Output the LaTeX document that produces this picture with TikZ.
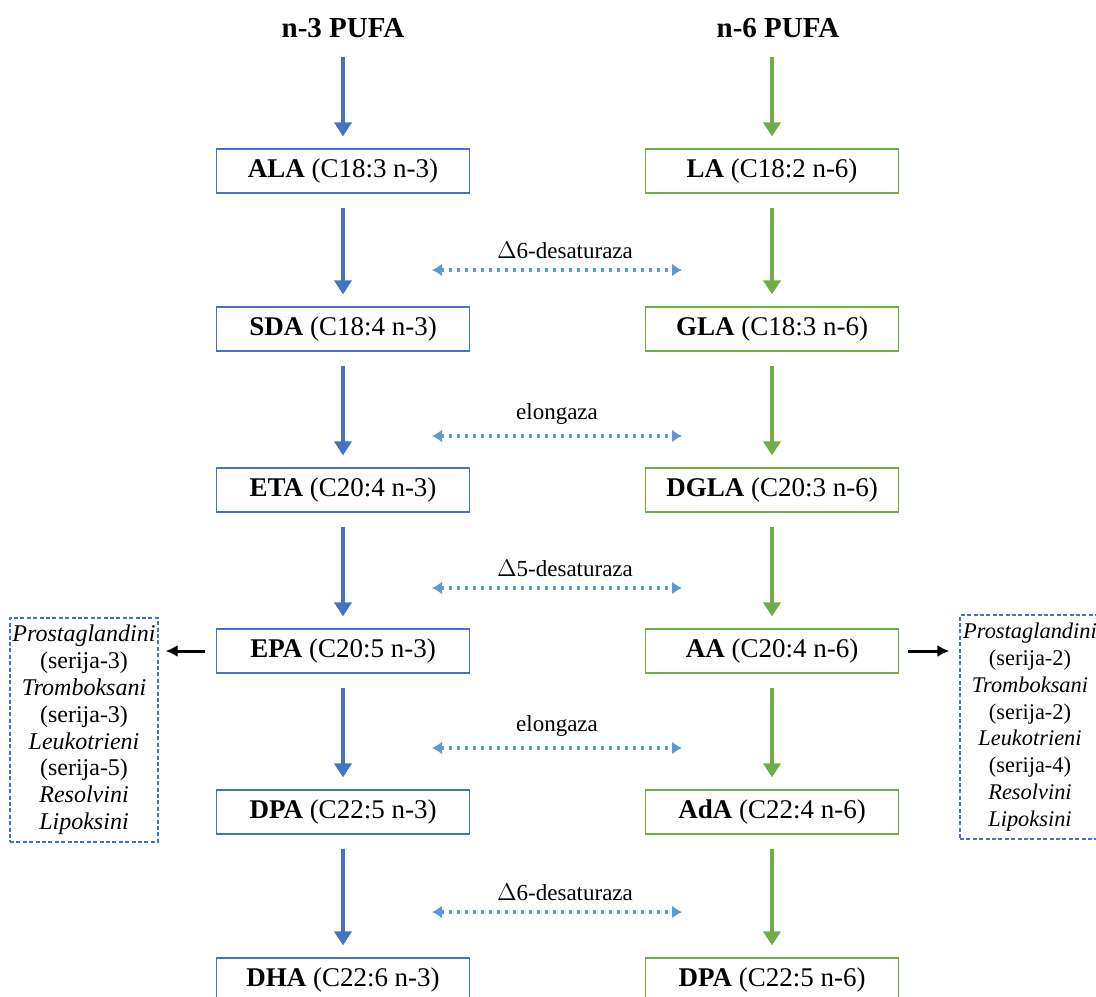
\documentclass[tikz,border=0pt]{standalone}
\usepackage{fontspec}
\setmainfont{Liberation Serif}
\usetikzlibrary{arrows.meta,positioning}
\definecolor{nblue}{HTML}{4472C4}
\definecolor{ngreen}{HTML}{70AD47}
\definecolor{lblue}{HTML}{5B9BD5}

\begin{document}
\begin{tikzpicture}[x=0.5pt,y=-0.5pt,>=Latex,
acid3/.style={draw=nblue,line width=0.6pt,minimum width=126.5pt,minimum height=22pt,inner sep=0pt,font=\fontsize{13.5}{16}\selectfont},
acid6/.style={acid3,draw=ngreen},
head/.style={font=\fontsize{14.5}{17}\selectfont\bfseries},
flow3/.style={draw=nblue,line width=1.8pt,-{Triangle[width=8.5pt,length=7pt]},shorten <=7pt,shorten >=6pt},
flow6/.style={flow3,draw=ngreen},
enzyme/.style={draw=lblue,line width=1.6pt,dash pattern=on 1.6pt off 2.4pt,{Latex[width=6.5pt,length=5pt]}-{Latex[width=6.5pt,length=5pt]}},
lab/.style={font=\fontsize{11.5}{13}\selectfont,inner sep=1pt},
eico/.style={draw=nblue,dash pattern=on 2pt off 1.2pt,line width=0.6pt,align=center,inner sep=0pt,minimum height=112pt,font=\fontsize{12}{13.4}\selectfont},
outflow/.style={-{Latex[width=6pt,length=6pt]},line width=1.5pt,black}]
\useasboundingbox (0,0) rectangle (1096,996);
\node[head] (n3) at (343,28) {n-3 PUFA};
\node[head] (n6) at (778,28) {n-6 PUFA};
% n-3 column
\node[acid3] (ala) at (343,171) {\textbf{ALA} (C18:3 n-3)};
\node[acid3] (sda) at (343,329) {\textbf{SDA} (C18:4 n-3)};
\node[acid3] (eta) at (343,490) {\textbf{ETA} (C20:4 n-3)};
\node[acid3] (epa) at (343,651) {\textbf{EPA} (C20:5 n-3)};
\node[acid3] (dpa3) at (343,812) {\textbf{DPA} (C22:5 n-3)};
\node[acid3] (dha) at (343,980) {\textbf{DHA} (C22:6 n-3)};
% n-6 column
\node[acid6] (la) at (772,171) {\textbf{LA} (C18:2 n-6)};
\node[acid6] (gla) at (772,329) {\textbf{GLA} (C18:3 n-6)};
\node[acid6] (dgla) at (772,490) {\textbf{DGLA} (C20:3 n-6)};
\node[acid6] (aa) at (772,651) {\textbf{AA} (C20:4 n-6)};
\node[acid6] (ada) at (772,812) {\textbf{AdA} (C22:4 n-6)};
\node[acid6] (dpa6) at (772,980) {\textbf{DPA} (C22:5 n-6)};
% eicosanoids
\node[eico,text width=74pt] (eico3) at (84,730)
{\textit{Prostaglandini}\\(serija-3)\\\textit{Tromboksani}\\(serija-3)\\\textit{Leukotrieni}\\(serija-5)\\\textit{Resolvini}\\\textit{Lipoksini}};
\node[eico,text width=70pt,font=\fontsize{11.2}{13.4}\selectfont] (eico6) at (1030,727)
{\textit{Prostaglandini}\\(serija-2)\\\textit{Tromboksani}\\(serija-2)\\\textit{Leukotrieni}\\(serija-4)\\\textit{Resolvini}\\\textit{Lipoksini}};
% enzyme steps
\coordinate (e1l) at (432,270); \coordinate (e1r) at (682,270);
\coordinate (e2l) at (432,436); \coordinate (e2r) at (682,436);
\coordinate (e3l) at (432,588); \coordinate (e3r) at (682,588);
\coordinate (e4l) at (432,748); \coordinate (e4r) at (682,748);
\coordinate (e5l) at (432,912); \coordinate (e5r) at (682,912);
\draw[flow3,shorten <=6pt] (n3)--(ala);
\draw[flow6,shorten <=6pt] (n6.south-|la.north)--(la);
\draw[flow3] (ala)--(sda);
\draw[flow3] (sda)--(eta);
\draw[flow3] (eta)--(epa);
\draw[flow3] (epa)--(dpa3);
\draw[flow3] (dpa3)--(dha);
\draw[flow6] (la)--(gla);
\draw[flow6] (gla)--(dgla);
\draw[flow6] (dgla)--(aa);
\draw[flow6] (aa)--(ada);
\draw[flow6] (ada)--(dpa6);
\draw[enzyme] (e1l)--(e1r) node[midway,above=4pt,xshift=4pt,lab] {$\Delta$6-desaturaza};
\draw[enzyme] (e2l)--(e2r) node[midway,above=4pt,lab] {elongaza};
\draw[enzyme] (e3l)--(e3r) node[midway,above=4pt,xshift=4pt,lab] {$\Delta$5-desaturaza};
\draw[enzyme] (e4l)--(e4r) node[midway,above=4pt,lab] {elongaza};
\draw[enzyme] (e5l)--(e5r) node[midway,above=4pt,xshift=4pt,lab] {$\Delta$6-desaturaza};
\draw[outflow,shorten <=5.5pt,shorten >=3.5pt] (epa.west)--(eico3.east|-epa.west);
\draw[outflow,shorten <=4.5pt,shorten >=5pt] (aa.east)--(eico6.west|-aa.east);
\end{tikzpicture}
\end{document}
